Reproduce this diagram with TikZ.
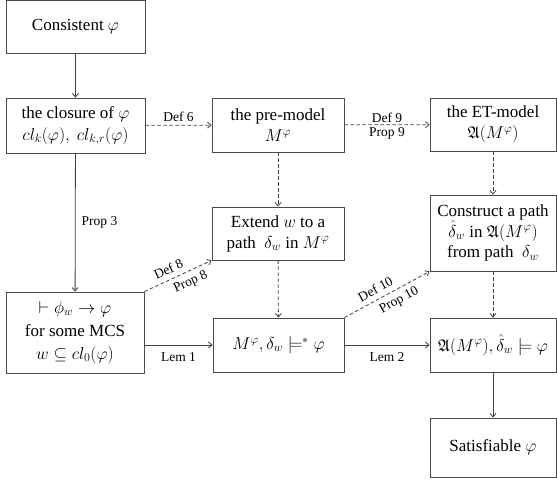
\documentclass[tikz,border=0pt]{standalone}
\usepackage{amssymb}
\usepackage{fontspec}
\setmainfont{Liberation Serif}
\newfontfamily\tmsfont{Liberation Serif}
\usetikzlibrary{arrows.meta}
\begin{document}
\begin{tikzpicture}[x=1pt,y=-1pt,
  box/.style={draw=black!70,line width=0.9pt,rectangle,inner sep=0pt,align=center,
    font=\tmsfont\fontsize{17}{21}\selectfont},
  conn/.style={draw=black!75,line width=0.8pt,-{Straight Barb[length=3.5pt,width=6pt]}},
  dconn/.style={conn,dash pattern=on 3.5pt off 2.5pt},
  lab/.style={font=\tmsfont\fontsize{13.5}{15}\selectfont,inner sep=2pt}]
\useasboundingbox (0,0) rectangle (557,480);
\node[box,minimum width=139pt,minimum height=53pt] (cons) at (75.5,27) {Consistent $\varphi$};
\node[box,minimum width=139pt,minimum height=55pt] (clos) at (75.5,125.5) {the closure of $\varphi$\\[1pt] $cl_k(\varphi),\ cl_{k,r}(\varphi)$};
\node[box,minimum width=132pt,minimum height=54pt] (pre) at (278,125) {the pre-model\\ $M^{\varphi}$};
\node[box,minimum width=126pt,minimum height=53pt] (et) at (493,124.5) {the ET-model\\ $\mathfrak{A}(M^{\varphi})$};
\node[box,minimum width=132pt,minimum height=53pt] (ext) at (278,233.5) {Extend $w$ to a\\ path\ \ $\delta_w$\ in $M^{\varphi}$};
\node[box,minimum width=126pt,minimum height=76pt,font=\tmsfont\fontsize{17}{20.5}\selectfont] (cst) at (493,233) {Construct a path\\ $\hat{\delta}_w$ in $\mathfrak{A}(M^{\varphi})$\\ from path\ \ $\delta_w$};
\node[box,minimum width=138pt,minimum height=81pt,font=\tmsfont\fontsize{17}{23}\selectfont] (mcs) at (75,332.5) {$\vdash\phi_w\rightarrow\varphi$\\ for some MCS\\ $w\subseteq cl_0(\varphi)$};
\node[box,minimum width=131pt,minimum height=54pt] (mdl) at (278.5,345) {$M^{\varphi},\delta_w\models^*\varphi$};
\node[box,minimum width=126pt,minimum height=54pt] (amd) at (493,345) {$\mathfrak{A}(M^{\varphi}),\hat{\delta}_w\models\varphi$};
\node[box,minimum width=126pt,minimum height=59pt] (sat) at (493,447.5) {Satisfiable $\varphi$};
% solid
\draw[conn] (cons) -- (clos);
\draw[conn] (clos) -- node[lab,right=4pt] {Prop 3} (mcs);
\draw[conn] (mcs.east |- mdl.west) -- node[lab,below=5pt] {Lem 1} (mdl.west);
\draw[conn] (mdl) -- node[lab,below=5pt] {Lem 2} (amd);
\draw[conn] (amd) -- (sat);
% dashed
\draw[dconn] (clos) -- node[lab,above=1pt] {Def 6} (pre);
\draw[dconn] (pre) -- node[lab,above=0pt] {Def 9} node[lab,below=0pt] {Prop 9} (et);
\draw[dconn] (pre) -- (ext);
\draw[dconn] (ext) -- (mdl);
\draw[dconn] (et) -- (cst);
\draw[dconn] (cst) -- (amd);
\draw[dconn] (mcs.north east) -- node[lab,sloped,pos=0.42,above=3pt] {Def 8} node[lab,sloped,pos=0.62,below=3pt] {Prop 8} (ext.south west);
\draw[dconn] (mdl.north east) -- node[lab,sloped,pos=0.42,above=3pt] {Def 10} node[lab,sloped,pos=0.58,below=3pt] {Prop 10} (cst.south west);
\end{tikzpicture}
\end{document}
